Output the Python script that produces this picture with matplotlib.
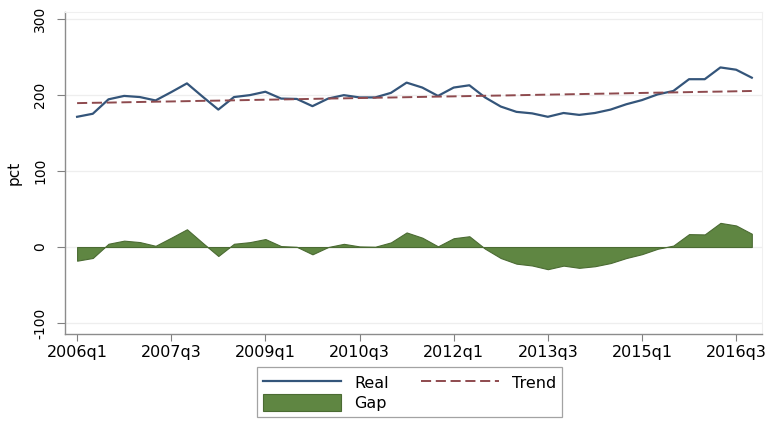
import numpy as np
import matplotlib.pyplot as plt
from matplotlib.patches import Patch

plt.rcParams['font.family'] = ['DejaVu Sans']

# quarterly series, 2006q1 - 2016q4
quarters = ['%dq%d' % (y, q) for y in range(2006, 2017) for q in range(1, 5)]

real = [171.5, 175.5, 194.5, 199.0, 197.5, 193.0, 204.0, 215.5, 198.0, 181.0,
        197.5, 200.0, 204.5, 195.5, 195.0, 185.5, 195.5, 200.0, 197.0, 197.0,
        203.0, 216.5, 210.0, 199.0, 210.0, 213.0, 197.0, 185.0, 178.0, 176.0,
        171.5, 176.5, 174.0, 176.5, 181.0, 188.0, 193.5, 201.0, 205.5, 221.0,
        221.0, 236.5, 233.5, 223.0]

trend = [189.5, 189.9, 190.2, 190.6, 191.0, 191.4, 191.7, 192.1, 192.5, 192.8,
         193.2, 193.6, 194.0, 194.3, 194.7, 195.1, 195.5, 195.8, 196.2, 196.6,
         196.9, 197.3, 197.7, 198.1, 198.4, 198.8, 199.2, 199.5, 199.9, 200.3,
         200.7, 201.0, 201.4, 201.8, 202.1, 202.5, 202.9, 203.3, 203.6, 204.0,
         204.4, 204.7, 205.1, 205.5]

gap = [-18.0, -14.4, 4.3, 8.4, 6.5, 1.6, 12.3, 23.4, 5.5, -11.8,
       4.3, 6.4, 10.5, 1.2, 0.3, -9.6, 0.0, 4.2, 0.8, 0.4,
       6.1, 19.2, 12.3, 0.9, 11.6, 14.2, -2.2, -14.5, -21.9, -24.3,
       -29.2, -24.5, -27.4, -25.3, -21.1, -14.5, -9.4, -2.3, 1.9, 17.0,
       16.6, 31.8, 28.4, 17.5]

yticks = [-100, 0, 100, 200, 300]
xtick_idx = list(range(0, 44, 6))

c_real = '#34557a'
c_trend = '#8e4a4e'
c_gap = '#5f8642'
c_gap_edge = '#4b6b33'
dash = (0, (5.2, 2.4))

x = np.arange(len(quarters))

fig = plt.figure(figsize=(7.74, 4.21), dpi=100)
ax = fig.add_axes([0.084, 0.2067, 0.9005, 0.7648])

ax.fill_between(x, 0, gap, color=c_gap, edgecolor=c_gap_edge, lw=0.8, zorder=2)
ax.plot(x, real, color=c_real, lw=1.6, zorder=3)
ax.plot(x, trend, color=c_trend, lw=1.4, ls=dash, zorder=4)

ax.set_xlim(-0.77, 43.65)
ax.set_ylim(-114.5, 309.5)

ax.set_yticks(yticks)
ax.set_yticklabels([str(v) for v in yticks], rotation=90, va='center', fontsize=10)
ax.set_xticks(xtick_idx)
ax.set_xticklabels([quarters[i] for i in xtick_idx], fontsize=11.5)
ax.tick_params(axis='y', length=6, width=0.8, color='#808080', pad=7)
ax.tick_params(axis='x', length=5, width=0.8, color='#808080', pad=3)

ax.grid(axis='y', color='#eeeeee', lw=0.9, zorder=0)
ax.set_axisbelow(True)
for side in ['left', 'bottom']:
    ax.spines[side].set_color('#8c8c8c')
    ax.spines[side].set_linewidth(1.0)
for side in ['right', 'top']:
    ax.spines[side].set_color('#f0f0f0')
    ax.spines[side].set_linewidth(0.8)

ax.set_ylabel('pct', fontsize=11, labelpad=8)

handles = [plt.Line2D([], [], color=c_real, lw=1.6),
           Patch(facecolor=c_gap, edgecolor=c_gap_edge, lw=0.8),
           plt.Line2D([], [], color=c_trend, lw=1.4, ls=dash)]
labels = ['Real', 'Gap', 'Trend']
leg = fig.legend(handles, labels, loc='center', bbox_to_anchor=(0.529, 0.068),
                 ncol=2, fontsize=11.5, frameon=True, fancybox=False,
                 handlelength=4.9, handleheight=1.25, handletextpad=0.8,
                 columnspacing=2.0, labelspacing=0.2, borderpad=0.4)
leg.get_frame().set_edgecolor('#8c8c8c')
leg.get_frame().set_linewidth(0.9)

fig.savefig('out.png', dpi=100)
